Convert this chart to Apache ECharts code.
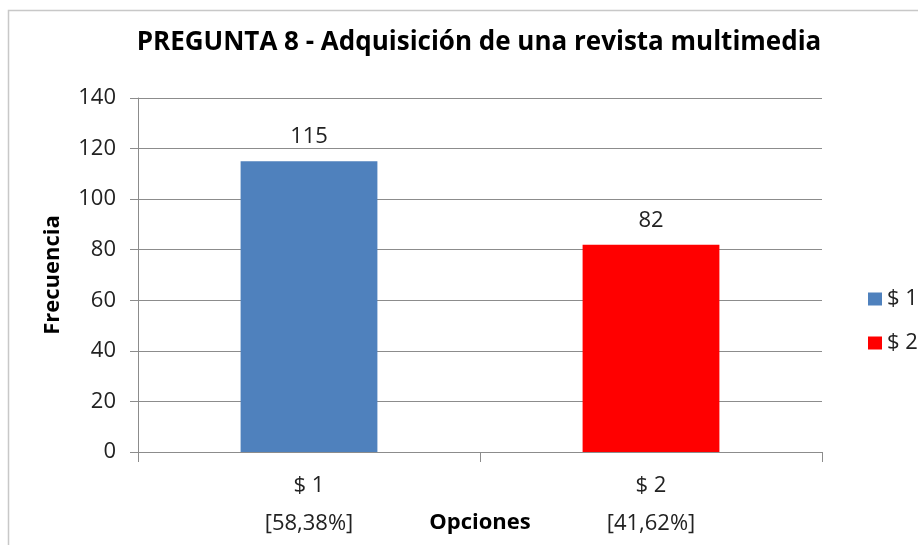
<!DOCTYPE html>
<html><head><meta charset="utf-8">
<script src="https://cdn.jsdelivr.net/npm/echarts@6/dist/echarts.min.js"></script>
<style>html,body{margin:0;padding:0;background:#fff}#c{width:918px;height:545px}</style>
</head><body><div id="c"></div>
<script>
const categories = ['$ 1', '$ 2'];
const percentLabels = ['[58,38%]', '[41,62%]'];
const values = [115, 82];
const seriesNames = ['$ 1', '$ 2'];
const colors = ['#4F81BD', '#FF0000'];
const yTicks = {min: 0, max: 140, interval: 20};

const font = '"Open Sans", "Noto Sans", sans-serif';
const chart = echarts.init(document.getElementById('c'));
const series = seriesNames.map((name, i) => ({
  name: name,
  type: 'bar',
  stack: 'all',
  barWidth: '40%',
  itemStyle: {color: colors[i]},
  label: {show: true, position: 'top', fontFamily: font, fontSize: 22, color: '#222', distance: 13},
  data: values.map((v, j) => j === i ? v : '-')
}));
chart.setOption({
  animation: false,
  graphic: [{type: 'rect', shape: {x: 8.5, y: 10.5, width: 930, height: 560}, style: {fill: 'none', stroke: '#c8c8c8', lineWidth: 1.5}}],
  title: {
    text: 'PREGUNTA 8 - Adquisición de una revista multimedia',
    left: 474, top: 25, textAlign: 'center',
    textStyle: {fontFamily: font, fontSize: 26, fontWeight: 'bold', color: '#000'}
  },
  legend: {
    orient: 'vertical', left: 863, top: 283, itemGap: 22,
    itemWidth: 14, itemHeight: 13, icon: 'rect',
    textStyle: {fontFamily: font, fontSize: 22, color: '#222', padding: [0, 0, 0, 0]},
    data: seriesNames
  },
  grid: {left: 138, right: 96, top: 98, bottom: 93, containLabel: false, outerBoundsMode: 'none'},
  xAxis: {
    type: 'category', data: categories,
    name: 'Opciones', nameLocation: 'middle', nameGap: 60, nameMoveOverlap: false,
    nameTextStyle: {fontFamily: font, fontSize: 22, fontWeight: 'bold', color: '#000'},
    axisLine: {lineStyle: {color: '#8c8c8c'}},
    axisTick: {show: true, alignWithLabel: false, length: 10, lineStyle: {color: '#8c8c8c'}},
    axisLabel: {
      fontFamily: font, fontSize: 22, color: '#222', margin: 15, lineHeight: 38,
      formatter: (v, i) => v + '\n' + percentLabels[i]
    }
  },
  yAxis: {
    type: 'value', min: yTicks.min, max: yTicks.max, interval: yTicks.interval,
    name: 'Frecuencia', nameLocation: 'middle', nameGap: 74, nameRotate: 90, nameMoveOverlap: false,
    nameTextStyle: {fontFamily: font, fontSize: 22, fontWeight: 'bold', color: '#000'},
    axisLine: {show: true, lineStyle: {color: '#8c8c8c'}},
    axisTick: {show: true, length: 8, lineStyle: {color: '#8c8c8c'}},
    splitLine: {lineStyle: {color: '#8c8c8c'}},
    axisLabel: {fontFamily: font, fontSize: 22, color: '#222', margin: 22}
  },
  series: series
});
</script></body></html>
